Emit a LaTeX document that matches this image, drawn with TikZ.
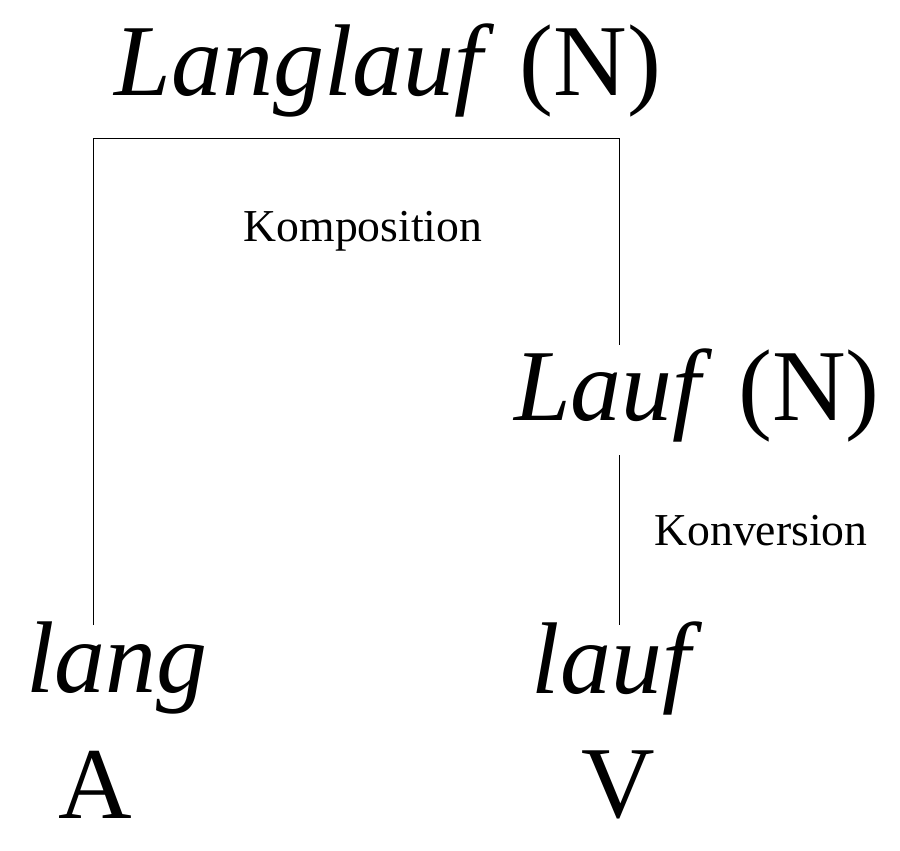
\documentclass[tikz,border=0pt]{standalone}
\usepackage{fontspec}
\setmainfont{Liberation Serif}
\begin{document}
\begin{tikzpicture}[x=0.02cm,y=-0.02cm]
	\useasboundingbox (0,0) rectangle (900,850);
	\tikzset{big/.style={font=\fontsize{58}{66}\selectfont, inner sep=0pt},
		small/.style={font=\fontsize{26}{30}\selectfont, inner sep=0pt}}
	\node (langlauf) [big] at (388,70) {\textit{Langlauf} (N)};
	\node (komp) [small] at (363,231) {Komposition};
	\node (lauf) [big] at (697,395) {\textit{Lauf} (N)};
	\node (konv) [small] at (761,531) {Konversion};
	\node (lang) [big] at (117,668) {\textit{lang}};
	\node (laufv) [big] at (617,668) {\textit{lauf}};
	\node (A) [big] at (95,785) {A};
	\node (V) [big] at (618,785) {V};
	\coordinate (c1) at (93,625);
	\coordinate (c2) at (93,138);
	\coordinate (c3) at (619,138);
	\coordinate (c4) at (619,345);
	\coordinate (c5) at (619,455);
	\coordinate (c6) at (619,625);
	
	% Lines
	\draw (c1) -- (c2) -- (c3) -- (c4);
	\draw (c5) -- (c6);
\end{tikzpicture}
\end{document}
